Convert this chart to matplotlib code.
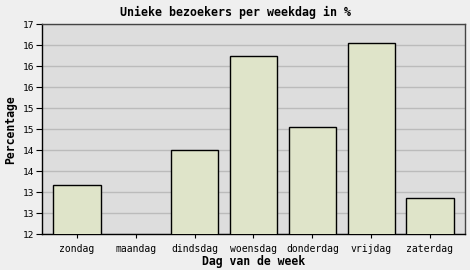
import numpy as np
import matplotlib
matplotlib.use("Agg")
import matplotlib.pyplot as plt

days = ["zondag", "maandag", "dindsdag", "woensdag", "donderdag", "vrijdag", "zaterdag"]
pct = [13.17, 11.6, 14.0, 16.24, 14.55, 16.55, 12.86]
yticks = [12, 12.5, 13, 13.5, 14, 14.5, 15, 15.5, 16, 16.5, 17]
ylabels = ["12", "13", "13", "14", "14", "15", "15", "16", "16", "16", "17"]

plt.rcParams['font.family'] = ['DejaVu Sans Mono']

fig = plt.figure(figsize=(4.7, 2.7), dpi=100, facecolor="#efefef")
ax = fig.add_axes([0.0887, 0.1322, 0.9013, 0.7788])
ax.set_facecolor("#dddddd")

x = np.arange(len(days))
ax.bar(x, pct, width=0.8, color="#dfe4c9", edgecolor="black", linewidth=1.0, zorder=3)

ax.set_xlim(-0.6, 6.6)
ax.set_ylim(12, 17)
ax.set_yticks(yticks)
ax.set_yticklabels(ylabels)
ax.set_xticks(x)
ax.set_xticklabels(days)
ax.yaxis.grid(True, color="#bbbbbb", linewidth=1.0, zorder=1)
ax.set_axisbelow(True)

ax.tick_params(axis="y", length=4, width=0.8, pad=1.5, labelsize=6.8, colors="black")
ax.tick_params(axis="x", length=3, width=0.8, pad=4, labelsize=7)
for s in ["left", "bottom"]:
    ax.spines[s].set_color("black")
    ax.spines[s].set_linewidth(1.0)
for s in ["top", "right"]:
    ax.spines[s].set_color("#444444")
    ax.spines[s].set_linewidth(1.0)

fig.text(0.5, 0.955, "Unieke bezoekers per weekdag in %", ha="center", va="center",
         fontsize=8.4, fontweight="bold")
ax.set_xlabel("Dag van de week", fontsize=8.3, fontweight="bold", labelpad=1)
ax.set_ylabel("Percentage", fontsize=8.3, fontweight="bold", labelpad=4)

fig.savefig("out.png", dpi=100, facecolor=fig.get_facecolor())
